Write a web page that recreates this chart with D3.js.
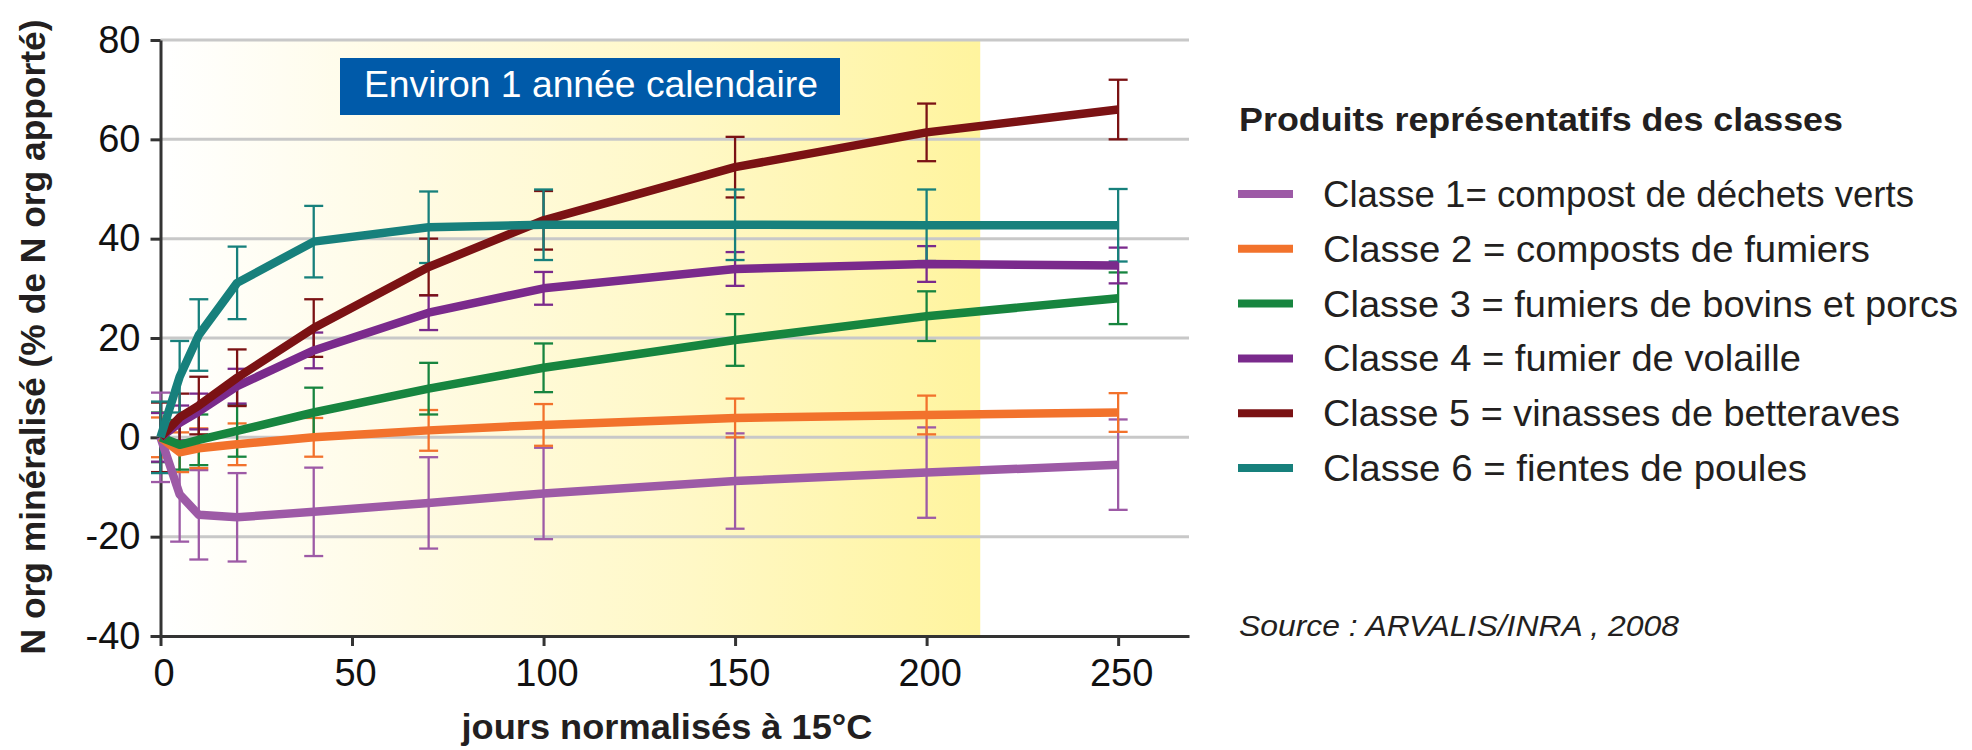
<!DOCTYPE html>
<html>
<head>
<meta charset="utf-8">
<script src="https://cdn.jsdelivr.net/npm/d3@7"></script>
<style>
  body { margin: 0; background: #fff; }
  svg { display: block; font-family: "Liberation Sans", Arial, sans-serif; }
</style>
</head>
<body>
<svg id="chart" width="1972" height="750"></svg>
<script>
// jours normalises a 15 degres
var days = [0, 5, 10, 20, 40, 70, 100, 150, 200, 250];

var classe1 = [0, -11.5, -15.6, -16.1, -15, -13.2, -11.3, -8.8, -7.1, -5.5];
var err1    = [9, 9.5, 9, 8.9, 8.9, 9.2, 9.2, 9.6, 9.1, 9.1];
var classe2 = [0, -3, -2.2, -1.4, 0, 1.4, 2.5, 3.9, 4.5, 5];
var err2    = [4, 4, 4, 4.2, 3.9, 4.1, 4.2, 3.9, 3.9, 3.9];
var classe3 = [0, -1.5, -0.5, 1.3, 5, 9.8, 14, 19.6, 24.4, 28];
var err3    = [5, 5, 5.1, 5.2, 5, 5.2, 4.9, 5.2, 5, 5.2];
var classe4 = [0, 2.9, 5.2, 10.3, 17.5, 25.1, 30, 33.9, 34.9, 34.6];
var err4    = [4.9, 3.5, 3.6, 3.5, 3.6, 3.5, 3.3, 3.4, 3.6, 3.6];
var classe5 = [0, 4, 6.4, 12, 22, 34.3, 43.7, 54.4, 61.4, 66];
var err5    = [7, 4.8, 5.8, 5.7, 5.8, 5.7, 5.9, 6.1, 5.8, 6];
var classe6 = [0, 12.2, 20.6, 31.1, 39.4, 42.3, 42.8, 42.8, 42.7, 42.7];
var err6    = [7.2, 7.2, 7.2, 7.3, 7.2, 7.2, 7.1, 7.1, 7.2, 7.3];

var classLabels = [
  "Classe 1= compost de déchets verts",
  "Classe 2 = composts de fumiers",
  "Classe 3 = fumiers de bovins et porcs",
  "Classe 4 = fumier de volaille",
  "Classe 5 = vinasses de betteraves",
  "Classe 6 = fientes de poules"
];
var classColors = ["#9d5aa6", "#f2722c", "#17853f", "#7a2a8c", "#7b1214", "#17807c"];
var labelWidths = [591, 547, 635, 478, 577, 484];

var xTicks = [0, 50, 100, 150, 200, 250];
var yTicks = [-40, -20, 0, 20, 40, 60, 80];
var yearEnd = 214; // environ 1 annee calendaire

var svg = d3.select("#chart");

var x = d3.scaleLinear().domain([0, 268.5]).range([160.5, 1189]);
var y = d3.scaleLinear().domain([-40, 80]).range([636, 40]);

var series = [classe1, classe2, classe3, classe4, classe5, classe6].map(function (vals, i) {
  var errs = [err1, err2, err3, err4, err5, err6][i];
  return {
    color: classColors[i],
    points: days.map(function (d, j) { return { d: d, v: vals[j], e: errs[j] }; })
  };
});

// yellow band
var grad = svg.append("defs").append("linearGradient").attr("id", "band")
  .attr("x1", "0%").attr("x2", "100%").attr("y1", "0%").attr("y2", "0%");
grad.append("stop").attr("offset", "0%").attr("stop-color", "#ffffff");
grad.append("stop").attr("offset", "30%").attr("stop-color", "#fffbe4");
grad.append("stop").attr("offset", "65%").attr("stop-color", "#fff8c6");
grad.append("stop").attr("offset", "100%").attr("stop-color", "#fff49e");

svg.append("rect")
  .attr("x", x(0)).attr("y", y(80))
  .attr("width", x(yearEnd) - x(0)).attr("height", y(-40) - y(80))
  .style("fill", "url(#band)");

// grid
svg.append("g").selectAll("line")
  .data(yTicks.filter(function (t) { return t > -40; }))
  .enter().append("line")
  .attr("x1", x(0)).attr("x2", x.range()[1])
  .attr("y1", function (d) { return y(d); }).attr("y2", function (d) { return y(d); })
  .style("stroke", "#c8c8c8").style("stroke-width", "3px");

// box
svg.append("rect").attr("x", 340).attr("y", 58).attr("width", 500).attr("height", 57)
  .style("fill", "#005aa9");
svg.append("text").attr("x", 364).attr("y", 97)
  .attr("textLength", 454).attr("lengthAdjust", "spacingAndGlyphs")
  .style("font-size", "36px").style("fill", "#fff")
  .text("Environ 1 année calendaire");

// axes
var xAxis = svg.append("g").attr("transform", "translate(0," + y(-40) + ")")
  .call(d3.axisBottom(x).tickValues(xTicks).tickSize(10).tickSizeOuter(0).tickPadding(13).tickFormat(String));
var yAxis = svg.append("g").attr("transform", "translate(" + x(0) + ",0)")
  .call(d3.axisLeft(y).tickValues(yTicks).tickSize(10).tickSizeOuter(0).tickPadding(10).tickFormat(String));
[xAxis, yAxis].forEach(function (a) {
  a.select(".domain").style("stroke", "#333").style("stroke-width", "3px");
  a.selectAll(".tick line").style("stroke", "#333").style("stroke-width", "3px");
  a.selectAll(".tick text").style("font-size", "38px").style("fill", "#111")
    .style("font-family", "'Liberation Sans', Arial, sans-serif");
});
xAxis.selectAll(".tick text").attr("dx", "3px");

// error bars
series.forEach(function (s) {
  var g = svg.append("g").style("stroke", s.color).style("stroke-width", "2.3px");
  s.points.forEach(function (p) {
    var cx = x(p.d);
    g.append("line").attr("x1", cx).attr("x2", cx).attr("y1", y(p.v - p.e)).attr("y2", y(p.v + p.e));
    g.append("line").attr("x1", cx - 9.5).attr("x2", cx + 9.5).attr("y1", y(p.v + p.e)).attr("y2", y(p.v + p.e));
    g.append("line").attr("x1", cx - 9.5).attr("x2", cx + 9.5).attr("y1", y(p.v - p.e)).attr("y2", y(p.v - p.e));
  });
});

// lines
var line = d3.line().x(function (p) { return x(p.d); }).y(function (p) { return y(p.v); });
series.forEach(function (s) {
  svg.append("path").attr("d", line(s.points))
    .style("fill", "none").style("stroke", s.color).style("stroke-width", "8.5px")
    .style("stroke-linejoin", "round");
});

// axis titles
svg.append("text").attr("x", 667).attr("y", 739).attr("text-anchor", "middle")
  .attr("textLength", 411).attr("lengthAdjust", "spacingAndGlyphs")
  .style("font-size", "35px").style("font-weight", "bold").style("fill", "#231f20")
  .text("jours normalisés à 15°C");
svg.append("text").attr("transform", "translate(45,337) rotate(-90)").attr("text-anchor", "middle")
  .attr("textLength", 635).attr("lengthAdjust", "spacingAndGlyphs")
  .style("font-size", "35px").style("font-weight", "bold").style("fill", "#231f20")
  .text("N org minéralisé (% de N org apporté)");

// legend
svg.append("text").attr("x", 1239).attr("y", 131)
  .attr("textLength", 604).attr("lengthAdjust", "spacingAndGlyphs")
  .style("font-size", "34px").style("font-weight", "bold").style("fill", "#231f20")
  .text("Produits représentatifs des classes");

var legend = svg.append("g").selectAll("g").data(classLabels).enter().append("g")
  .attr("transform", function (d, i) { return "translate(0," + (194 + i * 54.8) + ")"; });
legend.append("line").attr("x1", 1238).attr("x2", 1293)
  .style("stroke", function (d, i) { return classColors[i]; }).style("stroke-width", "8px");
legend.append("text").attr("x", 1323).attr("y", 13)
  .attr("textLength", function (d, i) { return labelWidths[i]; }).attr("lengthAdjust", "spacingAndGlyphs")
  .style("font-size", "37px").style("fill", "#231f20")
  .text(function (d) { return d; });

svg.append("text").attr("x", 1239).attr("y", 636)
  .attr("textLength", 440).attr("lengthAdjust", "spacingAndGlyphs")
  .style("font-size", "30px").style("font-style", "italic").style("fill", "#231f20")
  .text("Source : ARVALIS/INRA , 2008");
</script>
</body>
</html>
